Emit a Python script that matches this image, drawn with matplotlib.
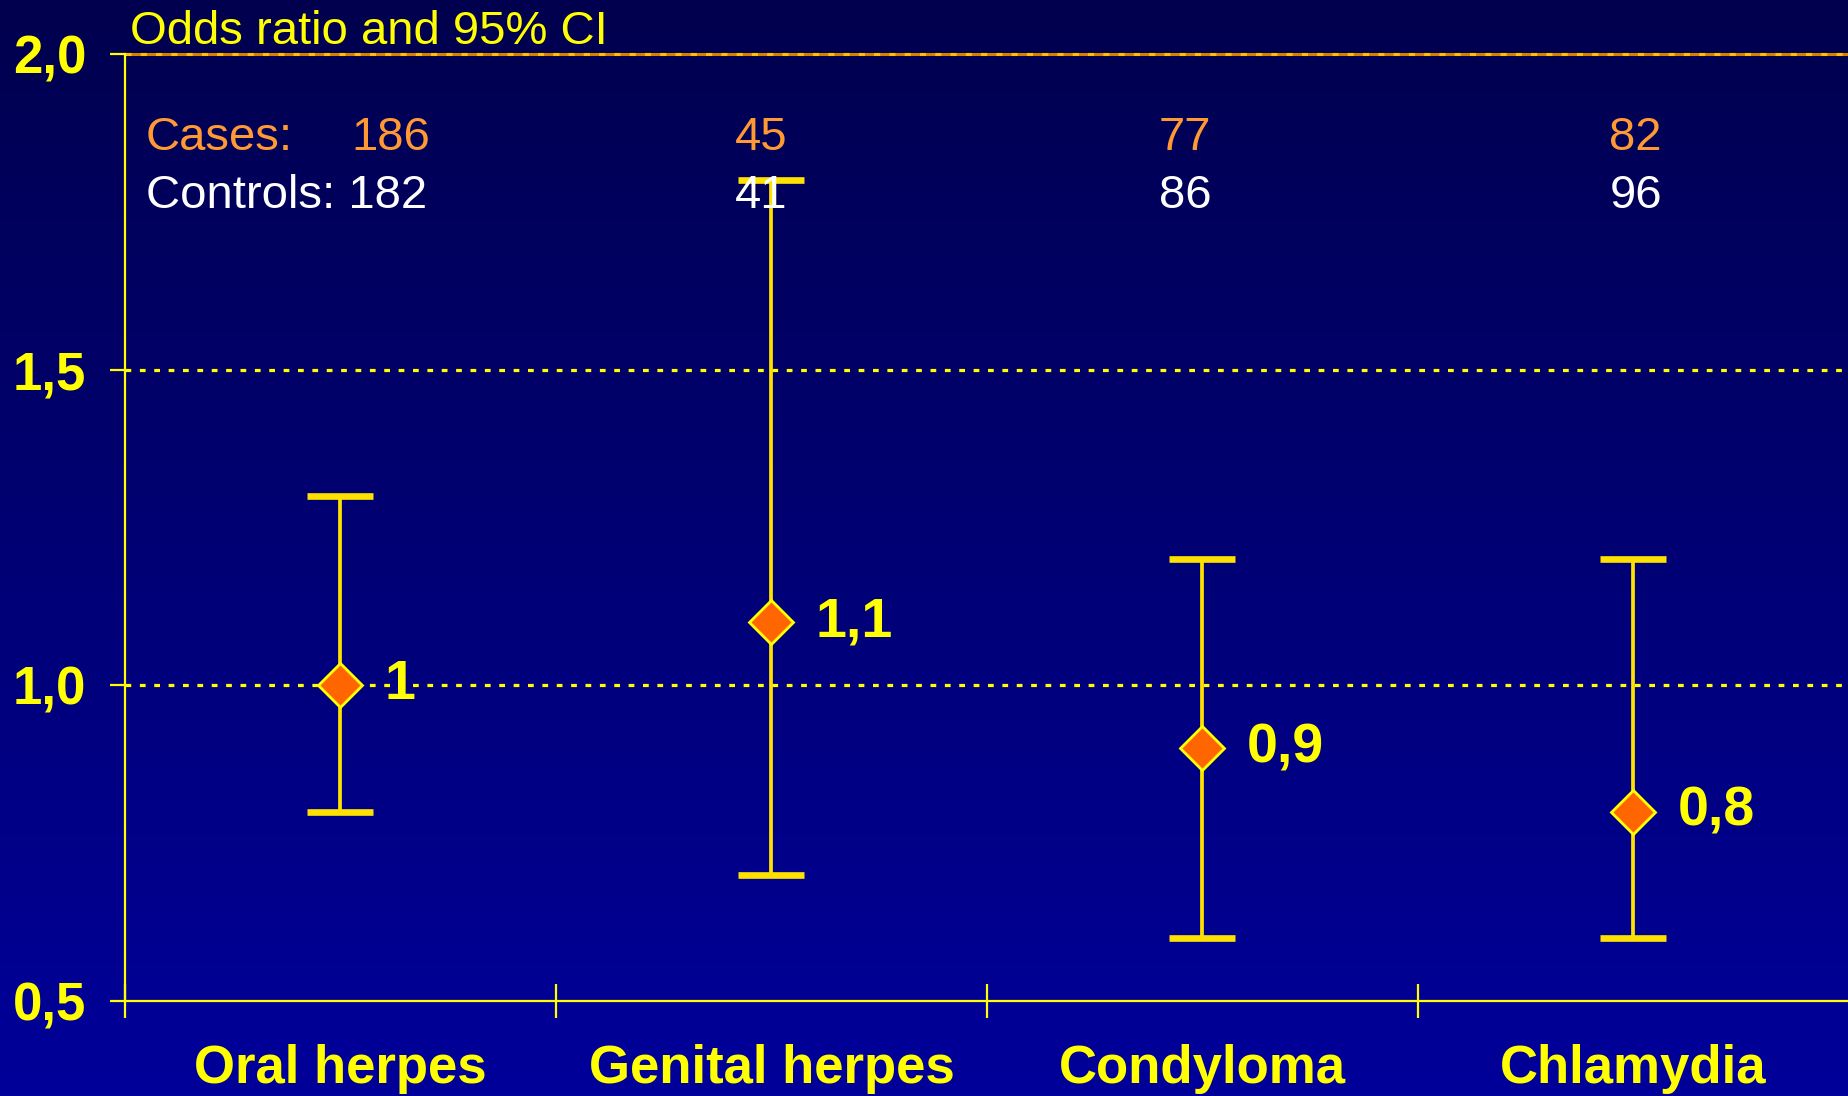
import matplotlib
matplotlib.use('Agg')
import matplotlib.pyplot as plt
import numpy as np

plt.rcParams['font.family'] = ['Liberation Sans', 'DejaVu Sans']

# data
categories = ['Oral herpes', 'Genital herpes', 'Condyloma', 'Chlamydia']
odds = [1.0, 1.1, 0.9, 0.8]
ci_low = [0.8, 0.7, 0.6, 0.6]
ci_high = [1.3, 1.8, 1.2, 1.2]
or_labels = ['1', '1,1', '0,9', '0,8']
cases = [186, 45, 77, 82]
controls = [182, 41, 86, 96]
yticks = [0.5, 1.0, 1.5, 2.0]
ytick_labels = ['0,5', '1,0', '1,5', '2,0']

yellow = '#FFFF00'
bar_yellow = '#FFE100'
orange = '#FF9933'

fig = plt.figure(figsize=(18.49, 10.96), dpi=100)

# background gradient
bg = fig.add_axes([0, 0, 1, 1], zorder=-10)
grad = np.linspace(0, 1, 256).reshape(-1, 1)
top_c = np.array([0x00, 0x00, 0x4E]) / 255
bot_c = np.array([0x00, 0x00, 0x9A]) / 255
img = top_c + (bot_c - top_c) * grad[:, :, None]
bg.imshow(img, aspect='auto', extent=[0, 1, 0, 1])
bg.set_axis_off()

ax = fig.add_axes([0.0676, 0.0867, 1 - 0.0676, 0.9507 - 0.0867])
ax.set_facecolor('none')
x = np.arange(len(categories))
ax.set_xlim(-0.5, 3.5)
ax.set_ylim(0.5, 2.0)

# grid lines
for yv in [1.0, 1.5]:
    ax.axhline(yv, color=yellow, lw=2.3, ls=(0, (1.8, 2.7)), zorder=1)
ax.axhline(2.0, color='#D98000', lw=2.2, zorder=1, clip_on=False)
ax.axhline(2.0, color='#FFC000', lw=2.2, ls=(0, (2, 3)), zorder=1, clip_on=False)

# error bars
yerr = [np.array(odds) - np.array(ci_low), np.array(ci_high) - np.array(odds)]
ax.errorbar(x, odds, yerr=yerr, fmt='none', ecolor=bar_yellow, elinewidth=2.7,
            capsize=24, capthick=4.8, zorder=3)
ax.plot(x, odds, ls='none', marker='D', ms=22.5, mfc='#FF6600', mec=yellow,
        mew=2, zorder=4)

for xi, yi, lab in zip(x, odds, or_labels):
    ax.annotate(lab, (xi, yi), xytext=(32, 0), textcoords='offset points',
                ha='left', va='center', fontsize=40, fontweight='bold',
                color=yellow, zorder=5)

# cases / controls
ax.text(-0.451, 1.867, 'Cases:', color=orange, fontsize=34, va='center', ha='left')
ax.text(0.025, 1.867, str(cases[0]), color=orange, fontsize=34, va='center', ha='left')
ax.text(-0.451, 1.775, 'Controls: ' + str(controls[0]), color='white', fontsize=34,
        va='center', ha='left')
count_x = [0.975, 1.96, 3.005]
for xi, c, k in zip(count_x, cases[1:], controls[1:]):
    ax.text(xi, 1.867, str(c), color=orange, fontsize=34, va='center', ha='center')
    ax.text(xi, 1.775, str(k), color='white', fontsize=34, va='center', ha='center')

# axes styling
for s in ['top', 'right']:
    ax.spines[s].set_visible(False)
for s in ['left', 'bottom']:
    ax.spines[s].set_color(yellow)
    ax.spines[s].set_linewidth(1.6)

ax.set_yticks(yticks)
ax.set_yticklabels(ytick_labels)
ax.tick_params(axis='y', colors=yellow, length=11, width=1.6, pad=17,
               labelsize=38)
for t in ax.get_yticklabels():
    t.set_fontweight('bold')

ax.set_xticks(x)
ax.set_xticklabels(categories)
ax.tick_params(axis='x', which='major', length=0, pad=31, labelsize=38,
               labelcolor=yellow)
for t in ax.get_xticklabels():
    t.set_fontweight('bold')
ax.set_xticks([-0.5, 0.5, 1.5, 2.5], minor=True)
ax.tick_params(axis='x', which='minor', direction='inout', length=25, width=1.6,
               color=yellow)

fig.text(130 / 1849, 1 - 44 / 1096, 'Odds ratio and 95% CI', color=yellow,
         fontsize=34, va='baseline', ha='left')

fig.savefig('out.png', dpi=100)
